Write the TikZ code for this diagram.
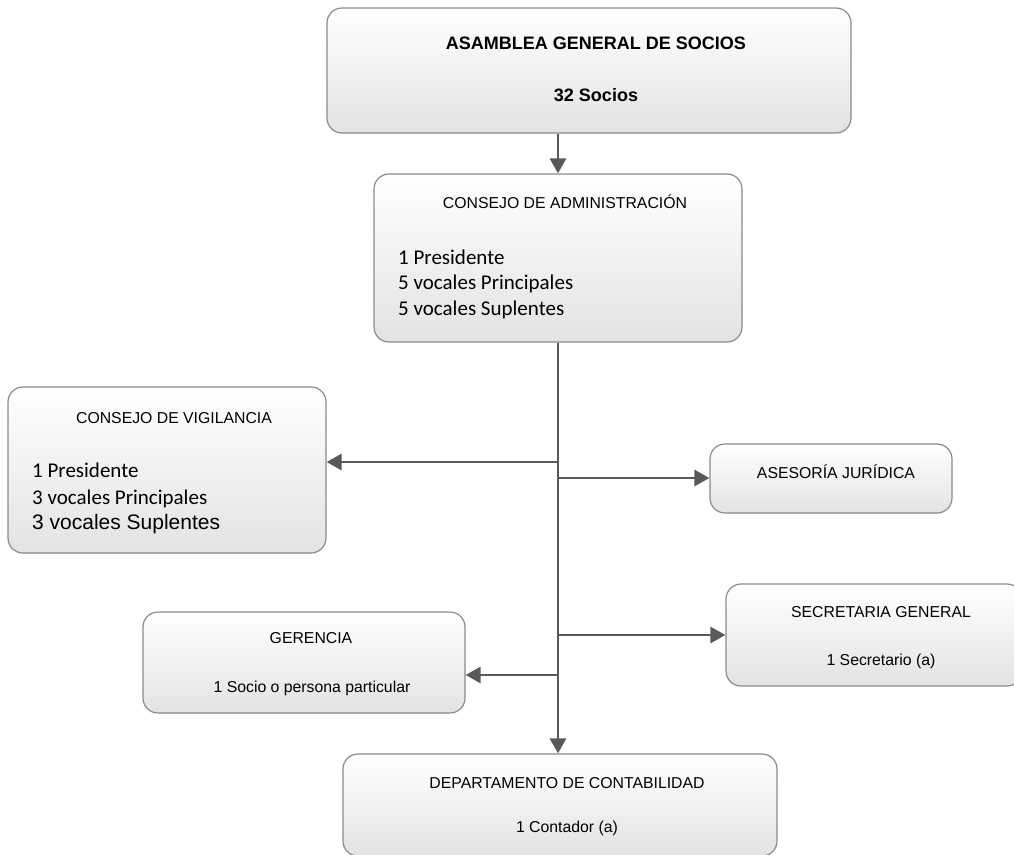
\documentclass[tikz,border=0pt]{standalone}
\usepackage{fontspec}
\newfontfamily\arialf{Liberation Sans}
\newfontfamily\calibf{Carlito}
\usetikzlibrary{arrows.meta}

\definecolor{linecol}{HTML}{595959}
\definecolor{boxline}{HTML}{8A8A8A}
\definecolor{boxfill}{HTML}{E3E3E3}

\tikzset{
  orgbox/.style={draw=boxline, line width=1.2pt, rounded corners=15pt,
    top color=white, bottom color=boxfill, inner sep=0pt},
  conn/.style={draw=linecol, line width=2.8pt,
    -{Triangle[length=15pt,width=16pt]}},
  txt/.style={anchor=base, inner sep=0pt, text=black},
  head/.style={txt, font=\arialf\fontsize{15.8}{19}\selectfont},
  bighead/.style={txt, font=\arialf\bfseries\fontsize{18}{22}\selectfont},
  member/.style={txt, anchor=base west, font=\calibf\fontsize{21}{25}\selectfont},
  bigmember/.style={txt, anchor=base west, font=\arialf\fontsize{21}{25}\selectfont}
}

\begin{document}
\begin{tikzpicture}[x=1pt, y=-1pt]
\useasboundingbox (0,0) rectangle (1014,854);
\clip (0,0) rectangle (1014,854);

% boxes
\node[orgbox, minimum width=524pt, minimum height=125pt] (asam) at (589,70.5) {};
\node[orgbox, minimum width=368pt, minimum height=168pt] (admin) at (558,258) {};
\node[orgbox, minimum width=318pt, minimum height=166pt] (vig) at (167,470) {};
\node[orgbox, minimum width=242pt, minimum height=69pt] (ases) at (831,478.5) {};
\node[orgbox, minimum width=296pt, minimum height=102pt] (secr) at (874,635) {};
\node[orgbox, minimum width=322pt, minimum height=101pt] (ger) at (304,662.5) {};
\node[orgbox, minimum width=434pt, minimum height=102pt] (conta) at (560,805) {};

% texts
\node[bighead] (asamT1) at (596,49.5) {ASAMBLEA GENERAL DE SOCIOS};
\node[bighead] (asamT2) at (596,101.5) {32 Socios};

\node[head] (adminT) at (565,208.6) {CONSEJO DE ADMINISTRACIÓN};
\node[member] (adminL1) at (398,264) {1 Presidente};
\node[member] (adminL2) at (398,289.5) {5 vocales Principales};
\node[member] (adminL3) at (398,315) {5 vocales Suplentes};

\node[head] (vigT) at (174,423.6) {CONSEJO DE VIGILANCIA};
\node[member] (vigL1) at (32,477) {1 Presidente};
\node[member] (vigL2) at (32,504) {3 vocales Principales};
\node[bigmember] (vigL3) at (32,529.5) {3 vocales Suplentes};

\node[head] (asesT) at (836,478.7) {ASESORÍA JURÍDICA};

\node[head] (secrT1) at (881,617.7) {SECRETARIA GENERAL};
\node[head] (secrT2) at (881,665.7) {1 Secretario (a)};

\node[head] (gerT1) at (311,643.7) {GERENCIA};
\node[head] (gerT2) at (312,692.7) {1 Socio o persona particular};

\node[head] (contaT1) at (567,788.7) {DEPARTAMENTO DE CONTABILIDAD};
\node[head] (contaT2) at (567,832.7) {1 Contador (a)};

% junctions on the main trunk
\coordinate (jVig) at (558,462);
\coordinate (jAses) at (558,478);
\coordinate (jSecr) at (558,635);
\coordinate (jGer) at (558,675);

% connectors
\draw[conn] (asam.south -| admin.north) -- (admin.north);
\draw[conn] (admin.south) -- (admin.south |- conta.north);
\draw[conn] (jVig) -- (jVig -| vig.east);
\draw[conn] (jAses) -- (jAses -| ases.west);
\draw[conn] (jSecr) -- (jSecr -| secr.west);
\draw[conn] (jGer) -- (jGer -| ger.east);
\end{tikzpicture}
\end{document}
